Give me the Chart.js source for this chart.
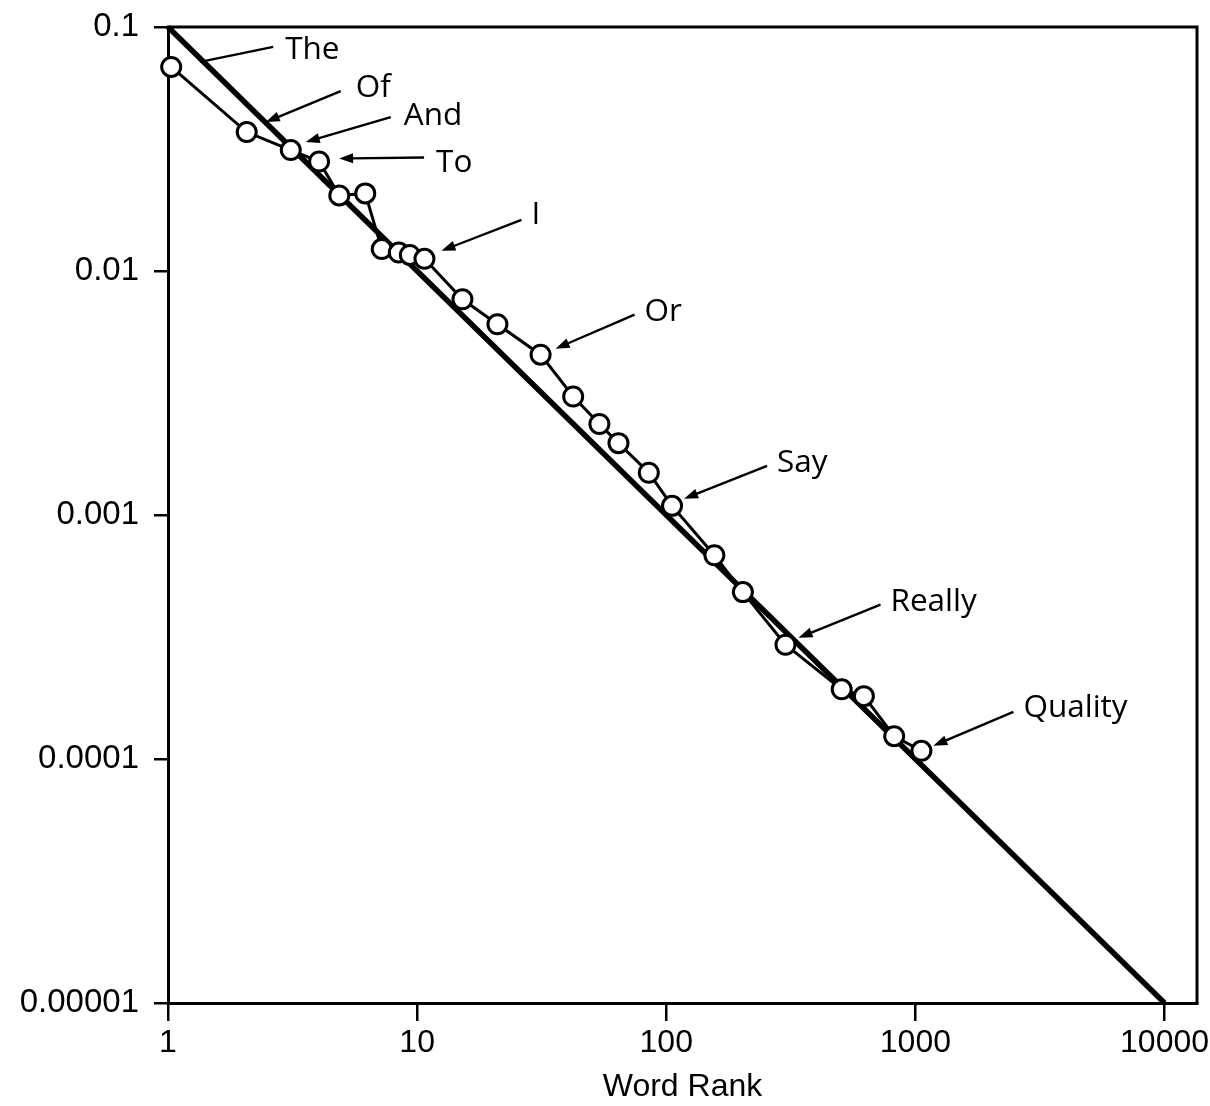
<!DOCTYPE html>
<html>
<head>
<meta charset="utf-8">
<title>Word Rank vs Frequency</title>
<script src="https://cdn.jsdelivr.net/npm/chart.js@4.4.0/dist/chart.umd.min.js"></script>
<style>
  html, body { margin: 0; padding: 0; background: #fff; }
  #wrap { width: 1210px; height: 1106px; }
  canvas { display: block; }
</style>
</head>
<body>
<div id="wrap"><canvas id="chart" width="1210" height="1106"></canvas></div>
<script>
// Observed word ranks and relative frequencies
const wordRanks = [1.03, 2.07, 3.11, 4.04, 4.87, 6.19, 7.21, 8.44, 9.35, 10.7,
                   15.2, 21.0, 31.3, 42.3, 53.9, 64.3, 85.1, 105.5, 156, 203,
                   301, 506, 621, 822, 1057];
const wordFreqs = [0.0686, 0.0371, 0.0313, 0.0281, 0.0204, 0.0208, 0.0123, 0.0119, 0.01164, 0.01122,
                   0.00766, 0.00605, 0.00454, 0.00306, 0.00236, 0.00197, 0.00149, 0.00109, 0.000684, 0.000483,
                   0.000294, 0.000193, 0.000181, 0.000124, 0.000108];

// Ideal Zipf line end points
const zipfRanks = [1, 10000];
const zipfFreqs = [0.1, 0.00001];

// Axis ticks
const xTickValues = [1, 10, 100, 1000, 10000];
const xTickLabels = ['1', '10', '100', '1000', '10000'];
const yTickValues = [0.1, 0.01, 0.001, 0.0001, 0.00001];
const yTickLabels = ['0.1', '0.01', '0.001', '0.0001', '0.00001'];

// Labelled words and the observed point each one refers to
const labelWords = ['The', 'Of', 'And', 'To', 'I', 'Or', 'Say', 'Really', 'Quality'];
const labelPointIndex = [0, 1, 2, 3, 9, 12, 17, 20, 24];

const TICK_FONT = '"Liberation Sans", Arial, sans-serif';
const NOTE_FONT = '"Open Sans", "Liberation Sans", sans-serif';

// Arrow geometry per labelled word: [tipDx, tipDy, tailDx, tailDy, textDx, textDy, arrowhead]
const noteGeometry = {
  The:     [29, -5, 102, -20, 12, 1, false],
  Of:      [19, -10, 94, -41, 15, -5, true],
  And:     [15, -8, 100, -33, 13, -3, true],
  To:      [20, -3, 105, -4, 12, 3, true],
  I:       [17, -8, 97, -39, 10, -7, true],
  Or:      [15, -6, 94, -40, 10, -5, true],
  Say:     [12, -7, 95, -40, 10, -5, true],
  Really:  [13, -7, 95, -40, 10, -5, true],
  Quality: [12, -5, 92, -39, 10, -6, true]
};

const framePlugin = {
  id: 'frame',
  afterDraw(chart) {
    const { ctx, chartArea: a } = chart;
    ctx.save();
    ctx.strokeStyle = '#000';
    ctx.lineWidth = 3;
    ctx.beginPath();
    ctx.moveTo(a.left - 1, a.top);
    ctx.lineTo(a.right, a.top);
    ctx.lineTo(a.right, a.bottom + 1);
    ctx.stroke();
    ctx.restore();
  }
};

const notesPlugin = {
  id: 'notes',
  afterDatasetsDraw(chart) {
    const { ctx } = chart;
    const xs = chart.scales.x, ys = chart.scales.y;
    ctx.save();
    ctx.strokeStyle = '#000';
    ctx.fillStyle = '#000';
    ctx.lineWidth = 2.4;
    ctx.font = '400 31.5px ' + NOTE_FONT;
    ctx.textAlign = 'left';
    ctx.textBaseline = 'alphabetic';
    labelWords.forEach((word, i) => {
      const k = labelPointIndex[i];
      const px = xs.getPixelForValue(wordRanks[k]);
      const py = ys.getPixelForValue(wordFreqs[k]);
      const g = noteGeometry[word];
      const tx = px + g[0], ty = py + g[1];
      const sx = px + g[2], sy = py + g[3];
      const ang = Math.atan2(ty - sy, tx - sx);
      const headLen = g[6] ? 14 : 0;
      ctx.beginPath();
      ctx.moveTo(sx, sy);
      ctx.lineTo(tx - Math.cos(ang) * headLen * 0.8, ty - Math.sin(ang) * headLen * 0.8);
      ctx.stroke();
      if (g[6]) {
        const hw = 5;
        ctx.beginPath();
        ctx.moveTo(tx, ty);
        ctx.lineTo(tx - Math.cos(ang) * headLen - Math.sin(ang) * hw, ty - Math.sin(ang) * headLen + Math.cos(ang) * hw);
        ctx.lineTo(tx - Math.cos(ang) * headLen + Math.sin(ang) * hw, ty - Math.sin(ang) * headLen - Math.cos(ang) * hw);
        ctx.closePath();
        ctx.fill();
      }
      ctx.fillText(word, sx + g[4], sy + g[5] + 11);
    });
    ctx.restore();
  }
};

function draw() {
  new Chart(document.getElementById('chart'), {
    type: 'scatter',
    data: {
      datasets: [
        {
          label: 'Observed',
          data: wordRanks.map((r, i) => ({ x: r, y: wordFreqs[i] })),
          showLine: true,
          borderColor: '#000',
          borderWidth: 3,
          pointRadius: 9.5,
          pointBorderWidth: 3,
          pointBackgroundColor: '#fff',
          pointBorderColor: '#000',
          clip: false,
          order: 0
        },
        {
          label: 'Zipf',
          data: zipfRanks.map((r, i) => ({ x: r, y: zipfFreqs[i] })),
          showLine: true,
          borderColor: '#000',
          borderWidth: 5.5,
          pointRadius: 0,
          clip: false,
          order: 1
        }
      ]
    },
    options: {
      responsive: false,
      animation: false,
      devicePixelRatio: 1,
      layout: { padding: { top: 27, right: 13, left: 0, bottom: 0 } },
      plugins: { legend: { display: false }, tooltip: { enabled: false } },
      scales: {
        x: {
          type: 'logarithmic',
          position: 'bottom',
          min: 1,
          max: 13500,
          afterBuildTicks(s) { s.ticks = xTickValues.map(v => ({ value: v })); },
          afterFit(s) { s.height = 103; s.paddingLeft = 0; s.paddingRight = 0; },
          ticks: {
            autoSkip: false,
            maxRotation: 0,
            padding: 3,
            color: '#000',
            font: { family: TICK_FONT, size: 32 },
            callback(v) { const i = xTickValues.indexOf(v); return i >= 0 ? xTickLabels[i] : ''; }
          },
          grid: { display: true, drawOnChartArea: false, drawTicks: true, tickLength: 18, color: '#000', lineWidth: 2.5 },
          border: { display: true, color: '#000', width: 3 },
          title: {
            display: true,
            text: 'Word Rank',
            color: '#000',
            font: { family: TICK_FONT, size: 32 },
            padding: { top: 0, bottom: 0 }
          }
        },
        y: {
          type: 'logarithmic',
          position: 'left',
          min: 0.00001,
          max: 0.1,
          afterBuildTicks(s) { s.ticks = yTickValues.map(v => ({ value: v })); },
          afterFit(s) { s.width = 168; s.paddingTop = 0; s.paddingBottom = 0; },
          ticks: {
            autoSkip: false,
            padding: 15,
            color: '#000',
            font: { family: TICK_FONT, size: 33 },
            callback(v) {
              const i = yTickValues.findIndex(t => Math.abs(t - v) / t < 1e-6);
              return i >= 0 ? yTickLabels[i] : '';
            }
          },
          grid: { display: true, drawOnChartArea: false, drawTicks: true, tickLength: 14, color: '#000', lineWidth: 2.5 },
          border: { display: true, color: '#000', width: 3 }
        }
      }
    },
    plugins: [framePlugin, notesPlugin]
  });
}

if (document.fonts && document.fonts.load) {
  Promise.all([
    document.fonts.load('32px "Liberation Sans"'),
    document.fonts.load('31px "Open Sans"')
  ]).then(draw, draw);
} else {
  draw();
}
</script>
</body>
</html>
